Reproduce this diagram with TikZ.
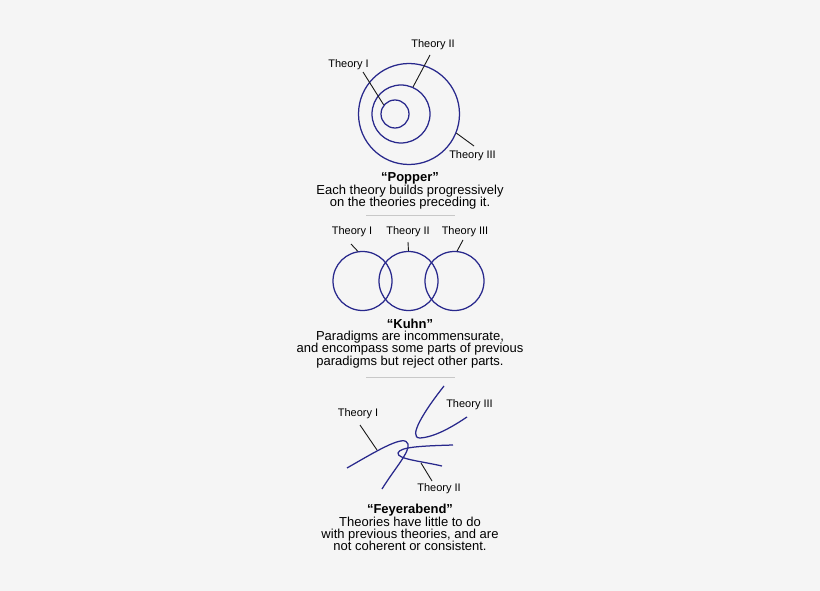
\documentclass[tikz,border=0pt]{standalone}
\usepackage{fontspec}
\setmainfont{Liberation Sans}
\usepackage{xcolor}
\usepackage{tikz}

\definecolor{ringblue}{RGB}{40,40,140}
\definecolor{paper}{RGB}{245,245,245}
\definecolor{rulegray}{RGB}{200,200,200}

\begin{document}
\begin{tikzpicture}[x=1pt, y=-1pt,
    ring/.style={circle, draw=ringblue, line width=1.25pt, inner sep=0pt},
    strand/.style={draw=ringblue, line width=1.25pt},
    leader/.style={draw=black!90, line width=0.9pt},
    theory/.style={font=\fontsize{11}{12}\selectfont, inner sep=1pt},
    caption/.style={font=\fontsize{13}{12.2}\selectfont, align=center, inner sep=0pt},
    separator/.style={draw=rulegray, line width=0.8pt}]

  \fill[paper] (0,0) rectangle (820,591);
  \useasboundingbox (0,0) rectangle (820,591);

  % Popper
  \node[ring, minimum size=28pt] (popRingI) at (395,114) {};
  \node[ring, minimum size=58pt] (popRingII) at (401,114) {};
  \node[ring, minimum size=101pt] (popRingIII) at (409,114) {};

  \node[theory] (popI) at (348.5,64.5) {Theory I};
  \node[theory] (popII) at (433,45) {Theory II};
  \node[theory] (popIII) at (472.5,155.5) {Theory III};
  \coordinate (popIfoot) at (363,72);
  \coordinate (popIIfoot) at (430,55);
  \coordinate (popIIIfoot) at (474,146);
  \draw[leader] (popIfoot) -- (popRingI.141);
  \draw[leader] (popIIfoot) -- (popRingII.66);
  \draw[leader] (popRingIII.-22) -- (popIIIfoot);

  \node[caption] (popCap) at (410,191) {\textbf{“Popper”}\\Each theory builds progressively\\on the theories preceding it.};

  \coordinate (sepAl) at (366,215);
  \coordinate (sepAr) at (455,215);
  \draw[separator] (sepAl) -- (sepAr);

  % Kuhn
  \node[ring, minimum size=59pt] (kuhnRingI) at (362.5,281) {};
  \node[ring, minimum size=59pt] (kuhnRingII) at (408.5,281) {};
  \node[ring, minimum size=59pt] (kuhnRingIII) at (454.5,281) {};

  \node[theory] (kuhnI) at (352,232) {Theory I};
  \node[theory] (kuhnII) at (408,232) {Theory II};
  \node[theory] (kuhnIII) at (465,232) {Theory III};
  \coordinate (kuhnIfoot) at (351,244);
  \coordinate (kuhnIIfoot) at (408,242);
  \coordinate (kuhnIIIfoot) at (463,240);
  \draw[leader] (kuhnIfoot) -- (kuhnRingI.99);
  \draw[leader] (kuhnIIfoot) -- (kuhnRingII.90);
  \draw[leader] (kuhnIIIfoot) -- (kuhnRingIII.85);

  \node[caption] (kuhnCap) at (410,343.5) {\textbf{“Kuhn”}\\Paradigms are incommensurate,\\and encompass some parts of previous\\paradigms but reject other parts.};

  \coordinate (sepBl) at (366,377);
  \coordinate (sepBr) at (455,377);
  \draw[separator] (sepBl) -- (sepBr);

  % Feyerabend
  \draw[strand] (347,468) .. controls (380,449) and (405,434) .. (408,444)
                          .. controls (410,452) and (395,468) .. (382,489);
  \draw[strand] (453,445) .. controls (420,446) and (400,447) .. (398,453)
                          .. controls (397,459) and (420,461) .. (442,466);
  \draw[strand] (444,386) .. controls (425,410) and (407,438) .. (420,438)
                          .. controls (435,437) and (452,427) .. (467,417);

  \node[theory] (feyI) at (358,414) {Theory I};
  \node[theory] (feyII) at (439,488.5) {Theory II};
  \node[theory] (feyIII) at (469.5,404.5) {Theory III};
  \coordinate (feyIfoot) at (360,425);
  \coordinate (feyItip) at (377,450);
  \coordinate (feyIItip) at (421,463);
  \coordinate (feyIIfoot) at (432,481);
  \draw[leader] (feyIfoot) -- (feyItip);
  \draw[leader] (feyIItip) -- (feyIIfoot);

  \node[caption] (feyCap) at (410,527.5) {\textbf{“Feyerabend”}\\Theories have little to do\\with previous theories, and are\\not coherent or consistent.};

\end{tikzpicture}
\end{document}
